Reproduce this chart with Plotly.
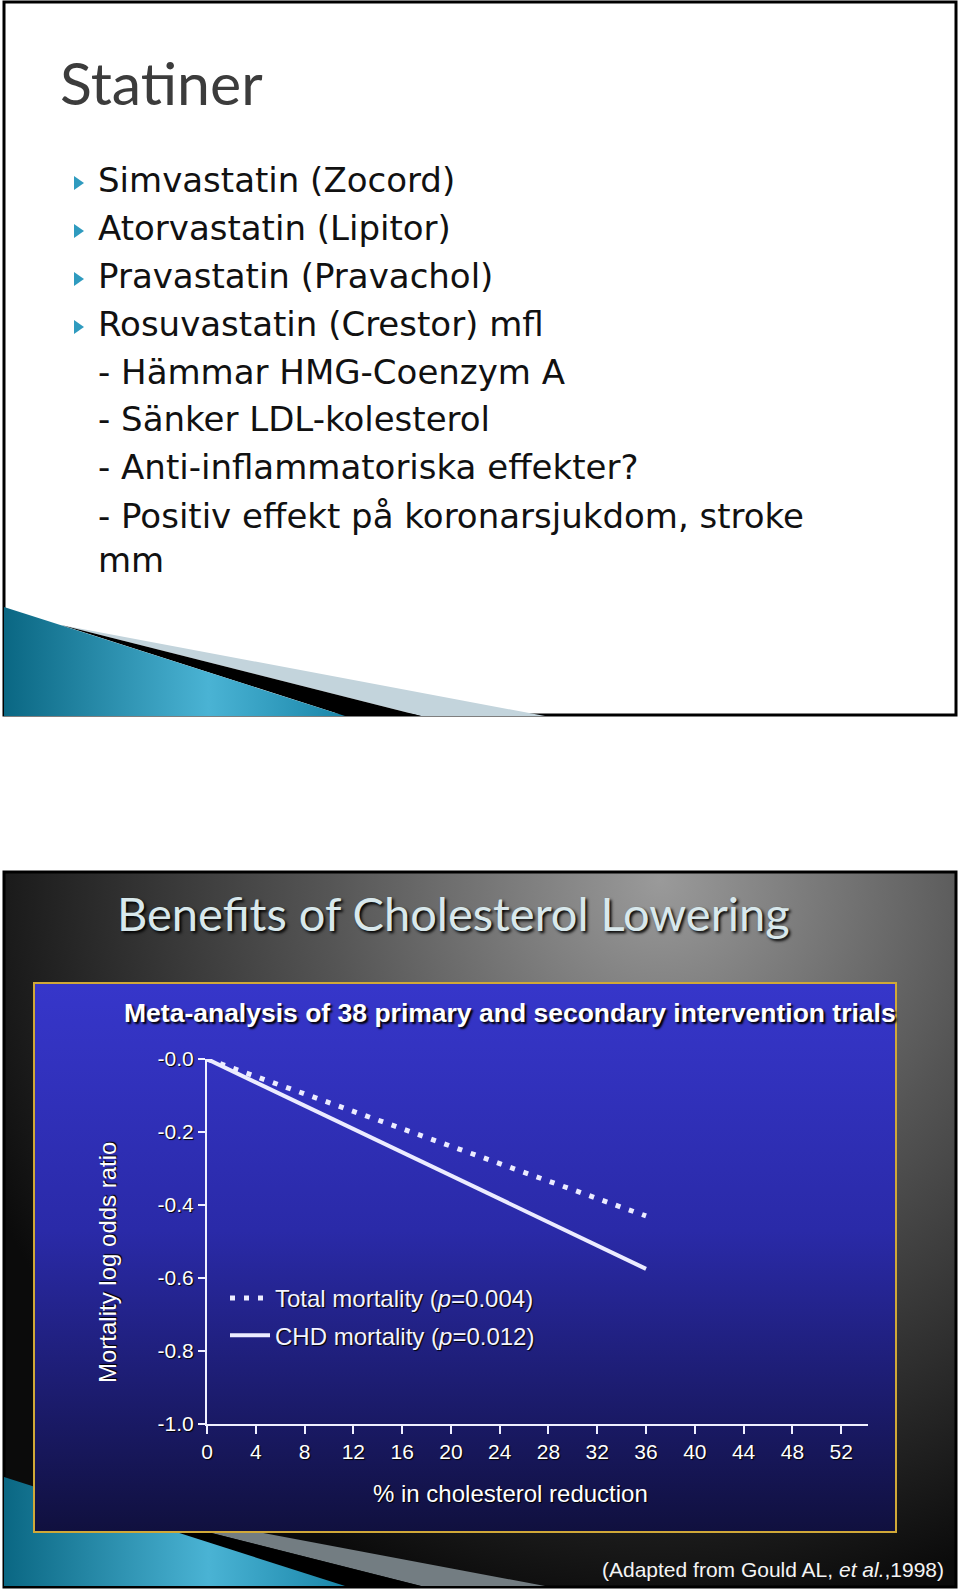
import base64
import plotly.graph_objects as go

# ---------------- data ----------------
reduction_pct = [0, 36]
total_mortality = [0.0, -0.43]
chd_mortality = [0.0, -0.575]

x_tickvals = [0, 4, 8, 12, 16, 20, 24, 28, 32, 36, 40, 44, 48, 52]
x_ticktext = ["0", "4", "8", "12", "16", "20", "24", "28", "32", "36", "40", "44", "48", "52"]
y_tickvals = [0.0, -0.2, -0.4, -0.6, -0.8, -1.0]
y_ticktext = ["-0.0", "-0.2", "-0.4", "-0.6", "-0.8", "-1.0"]

series_names = ["Total mortality (<i>p</i>=0.004)", "CHD mortality (<i>p</i>=0.012)"]

slide1_title = "Statiner"
slide1_lines = [
    "Simvastatin (Zocord)",
    "Atorvastatin (Lipitor)",
    "Pravastatin (Pravachol)",
    "Rosuvastatin (Crestor) mfl",
    "- Hämmar HMG-Coenzym A",
    "- Sänker LDL-kolesterol",
    "- Anti-inflammatoriska effekter?",
    "- Positiv effekt på koronarsjukdom, stroke",
    "mm",
]
slide2_title = "Benefits of Cholesterol Lowering"
chart_title = "Meta-analysis of 38 primary and secondary intervention trials"
x_title = "% in cholesterol reduction"
y_title = "Mortality log odds ratio"
footer = "(Adapted from Gould AL, <i>et al.</i>,1998)"

W, H = 960, 1596


def px(x):
    return x / W


def py(y):
    return 1 - y / H


# ---------------- decorative background (SVG) ----------------
line_y = [180, 228, 276, 324, 372, 419, 467, 516, 560]
tri = "".join(
    f'<polygon points="74,{y - 4} 84,{y + 3} 74,{y + 10}" fill="#2f9bbf"/>' for y in line_y[:4]
)


def swoosh(dy, hatch):
    return (
        f'<polygon points="61,{625 + dy} 545,{716 + dy} 421,{716 + dy}" fill="{hatch}"/>'
        f'<polygon points="61,{625 + dy} 421,{716 + dy} 345,{716 + dy}" fill="#000"/>'
        f'<polygon points="4,{607 + dy} 4,{716 + dy} 345,{716 + dy}" fill="url(#teal)"/>'
    )


svg = f'''<svg xmlns="http://www.w3.org/2000/svg" width="{W}" height="{H}" viewBox="0 0 {W} {H}" preserveAspectRatio="none">
<defs>
<linearGradient id="teal" x1="0" y1="0" x2="1" y2="0">
<stop offset="0" stop-color="#0a6783"/><stop offset="0.6" stop-color="#4ab3d4"/><stop offset="1" stop-color="#1a86a9"/>
</linearGradient>
<radialGradient id="dark" cx="660" cy="880" r="740" gradientUnits="userSpaceOnUse">
<stop offset="0" stop-color="#9a9a9a"/><stop offset="0.45" stop-color="#555555"/><stop offset="1" stop-color="#0b0b0b"/>
</radialGradient>
<linearGradient id="blue" x1="0" y1="0" x2="0" y2="1">
<stop offset="0" stop-color="#3636ca"/><stop offset="0.45" stop-color="#2a2aa8"/><stop offset="1" stop-color="#10103e"/>
</linearGradient>
</defs>
<rect x="0" y="0" width="{W}" height="{H}" fill="#ffffff"/>
<rect x="4" y="2" width="952" height="713" fill="#ffffff" stroke="#000" stroke-width="3"/>
{swoosh(0, "#c3d4dc")}
{tri}
<rect x="4" y="872" width="952" height="715" fill="url(#dark)" stroke="#000" stroke-width="3"/>
{swoosh(870, "#737d82")}
<rect x="34" y="983" width="862" height="549" fill="url(#blue)" stroke="#d0a838" stroke-width="2"/>
</svg>'''

src = "data:image/svg+xml;base64," + base64.b64encode(svg.encode("utf-8")).decode("ascii")

# ---------------- figure ----------------
LINE_COLOR = "#ececff"
AX_FONT = "Liberation Sans, Arial, sans-serif"

fig = go.Figure()
fig.add_trace(go.Scatter(
    x=reduction_pct, y=total_mortality, mode="lines", name=series_names[0],
    legendgroup="a",
    line=dict(color=LINE_COLOR, width=5, dash="5px,9px"),
))
fig.add_trace(go.Scatter(
    x=reduction_pct, y=chd_mortality, mode="lines", name=series_names[1],
    legendgroup="b",
    line=dict(color=LINE_COLOR, width=4),
))

fig.update_layout(
    width=W, height=H,
    margin=dict(l=0, r=0, t=0, b=0, autoexpand=False),
    paper_bgcolor="#ffffff",
    plot_bgcolor="rgba(0,0,0,0)",
    images=[dict(source=src, xref="paper", yref="paper", x=0, y=1, sizex=1, sizey=1,
                 sizing="stretch", xanchor="left", yanchor="top", layer="below")],
    xaxis=dict(
        domain=[px(207), px(868)], range=[0, 54.2], automargin=False,
        tickvals=x_tickvals, ticktext=x_ticktext,
        showgrid=False, zeroline=False, showline=True, linecolor="#f0f0ff", linewidth=2,
        ticks="outside", ticklen=8, tickwidth=2, tickcolor="#f0f0ff",
        tickfont=dict(family=AX_FONT, size=21, color="#ffffff", shadow="1px 1px 1px #000"),
    ),
    yaxis=dict(
        domain=[py(1424), py(1059)], range=[-1.0, 0.0], automargin=False,
        tickvals=y_tickvals, ticktext=y_ticktext,
        showgrid=False, zeroline=False, showline=True, linecolor="#f0f0ff", linewidth=2,
        ticks="outside", ticklen=7, tickwidth=2, tickcolor="#f0f0ff",
        tickfont=dict(family=AX_FONT, size=21, color="#ffffff", shadow="1px 1px 1px #000"),
    ),
    showlegend=True,
    legend=dict(
        x=px(225), y=py(1276), xanchor="left", yanchor="top",
        bgcolor="rgba(0,0,0,0)", borderwidth=0,
        font=dict(family=AX_FONT, size=24, color="#f4f4ff", shadow="1px 1px 1px #000"),
        itemwidth=40, tracegroupgap=3,
    ),
)

ann = []
ann.append(dict(text=slide1_title, x=px(58), y=py(83), xanchor="left", yanchor="middle",
                font=dict(family="Lato, Open Sans, sans-serif", size=59, color="#3c3c3c")))
for t, y in zip(slide1_lines, line_y):
    ann.append(dict(text=t, x=px(96), y=py(y), xanchor="left", yanchor="middle",
                    font=dict(family="DejaVu Sans, sans-serif", size=34, color="#111111")))
ann.append(dict(text=slide2_title, x=px(115), y=py(913), xanchor="left", yanchor="middle",
                font=dict(family="Lato, Open Sans, sans-serif", size=47, color="#d8e8ec",
                          shadow="2px 2px 3px #000")))
ann.append(dict(text="<b>" + chart_title + "</b>", x=px(122), y=py(1013), xanchor="left", yanchor="middle",
                font=dict(family=AX_FONT, size=26.5, color="#ffffff", shadow="2px 2px 2px #000")))
ann.append(dict(text=y_title, x=px(107), y=py(1263), xanchor="center", yanchor="middle", textangle=-90,
                font=dict(family=AX_FONT, size=24, color="#ffffff", shadow="1px 1px 1px #000")))
ann.append(dict(text=x_title, x=px(510), y=py(1493), xanchor="center", yanchor="middle",
                font=dict(family=AX_FONT, size=24, color="#ffffff", shadow="1px 1px 1px #000")))
ann.append(dict(text=footer, x=px(946), y=py(1569), xanchor="right", yanchor="middle",
                font=dict(family=AX_FONT, size=21, color="#f4f4f4")))
for a in ann:
    a.update(xref="paper", yref="paper", showarrow=False)
fig.update_layout(annotations=ann)

fig.write_html(
    "out.html",
    config={"displayModeBar": False},
    post_script="document.documentElement.style.margin='0';document.body.style.margin='0';"
                "document.body.style.padding='0';document.documentElement.style.overflow='hidden';",
)
